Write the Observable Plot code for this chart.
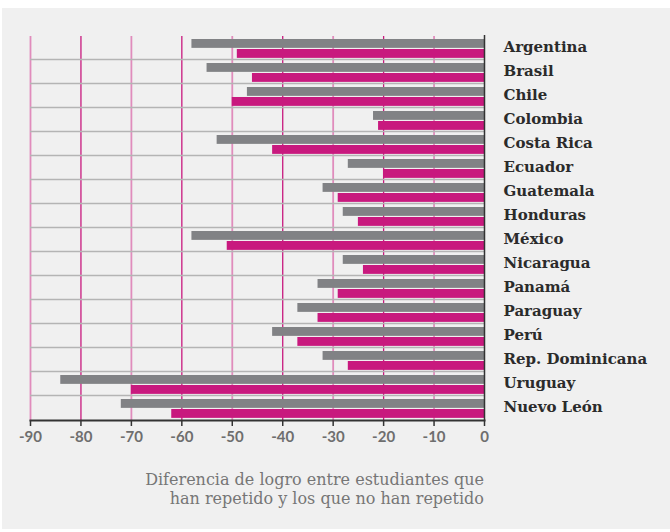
<!DOCTYPE html>
<html>
<head>
<meta charset="utf-8">
<script src="https://cdn.jsdelivr.net/npm/d3@7"></script>
<script src="https://cdn.jsdelivr.net/npm/@observablehq/plot@0.6"></script>
<style>
  html, body { margin: 0; padding: 0; background: #ffffff; }
  #panel { position: absolute; left: 2px; top: 8px; width: 668px; height: 521px; background: #f0f0f0; }
  #caption { width: 482px; text-align: right; margin-top: 10px; font-family: "DejaVu Serif", serif; font-size: 16px; line-height: 19px; color: #767676; }
  svg { display: block; }
</style>
</head>
<body>
<div id="panel"><div id="chart"></div><div id="caption">Diferencia de logro entre estudiantes que<br>han repetido y los que no han repetido</div></div>
<script>
const countries = ["Argentina","Brasil","Chile","Colombia","Costa Rica","Ecuador","Guatemala","Honduras","México","Nicaragua","Panamá","Paraguay","Perú","Rep. Dominicana","Uruguay","Nuevo León"];
const grisValues = [-58,-55,-47,-22,-53,-27,-32,-28,-58,-28,-33,-37,-42,-32,-84,-72];
const magentaValues = [-49,-46,-50,-21,-42,-20,-29,-25,-51,-24,-29,-33,-37,-27,-70,-62];
const xTicks = [-90,-80,-70,-60,-50,-40,-30,-20,-10,0];

const data = countries.map((c, i) => ({country: c, gris: grisValues[i], magenta: magentaValues[i]}));
const gridLines = xTicks.filter(t => t !== 0);
const separators = countries.slice(0, -1);
const band = 386 / countries.length;

const chart = Plot.plot({
  width: 668,
  height: 452,
  marginLeft: 28,
  marginRight: 186,
  marginTop: 26,
  marginBottom: 40,
  style: {background: "transparent"},
  x: {domain: [-90, 0]},
  y: {domain: countries, padding: 0, axis: null},
  marks: [
    Plot.ruleX(gridLines, {x: d => d, stroke: d => (d / 10) % 2 === 0 ? "#c8197e" : "#e08cbc", strokeWidth: d => (d / 10) % 2 === 0 ? 1.3 : 1.8, insetTop: 2}),
    Plot.ruleY(separators, {y: d => d, dy: band / 2, stroke: "#b4b4b4", strokeWidth: 1.5}),
    Plot.barX(data, {x1: 0, x2: "gris", y: "country", fill: "#818285", insetTop: 4, insetBottom: band - 13}),
    Plot.barX(data, {x1: 0, x2: "magenta", y: "country", fill: "#c8197e", insetTop: 14, insetBottom: band - 23}),
    Plot.ruleX([0], {stroke: "#333", strokeWidth: 1.5, insetTop: 1}),
    Plot.frame({anchor: "bottom", stroke: "#333", strokeWidth: 2}),
    Plot.axisX({anchor: "bottom", ticks: xTicks, tickSize: 6, tickPadding: 5, tickFormat: d => String(d), stroke: "#333", strokeWidth: 1.5, fill: "#6e6e6e", fontSize: 15, fontWeight: "bold", fontFamily: "Lato, sans-serif", label: null}),
    Plot.axisY({anchor: "right", tickSize: 0, tickPadding: 19, fontSize: 15, fontWeight: "bold", fontFamily: "'DejaVu Serif', serif", fill: "#2b2b2b", label: null})
  ]
});
document.getElementById("chart").appendChild(chart);
</script>
</body>
</html>
